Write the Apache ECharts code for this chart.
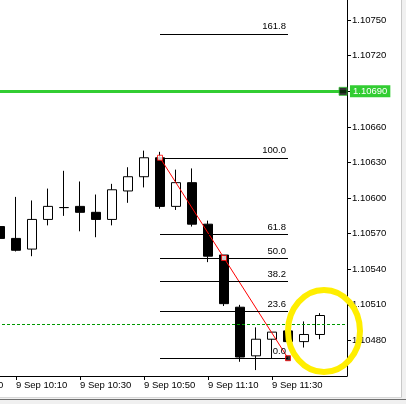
<!DOCTYPE html>
<html>
<head>
<meta charset="utf-8">
<script src="https://cdn.jsdelivr.net/npm/echarts@6/dist/echarts.min.js"></script>
<style>
html, body { margin: 0; padding: 0; background: #fff; }
#chart { width: 406px; height: 404px; }
</style>
</head>
<body>
<div id="chart"></div>
<script>
// EURUSD M5, 9 Sep 10:05 .. 11:45
var times = ['10:05', '10:10', '10:15', '10:20', '10:25', '10:30', '10:35', '10:40', '10:45', '10:50', '10:55',
  '11:00', '11:05', '11:10', '11:15', '11:20', '11:25', '11:30', '11:35', '11:40', '11:45'];
var opens = [1.10576, 1.10566, 1.10557, 1.10582, 1.10592, 1.10593, 1.10588, 1.10582, 1.10606, 1.10618, 1.10634,
  1.10593, 1.10613, 1.10578, 1.10552, 1.10508, 1.10467, 1.10481, 1.10488, 1.10479, 1.10485];
var closes = [1.10566, 1.10556, 1.10582, 1.10593, 1.10592, 1.10588, 1.10582, 1.10607, 1.10618, 1.10634, 1.10593,
  1.10613, 1.10578, 1.10551, 1.10511, 1.10466, 1.10481, 1.10487, 1.10479, 1.10485, 1.10501];
var lows = [1.10555, 1.10555, 1.10551, 1.10577, 1.10585, 1.10572, 1.10567, 1.10577, 1.10596, 1.10609, 1.10591,
  1.10590, 1.10576, 1.10546, 1.10509, 1.10462, 1.10455, 1.10465, 1.10479, 1.10474, 1.10481];
var highs = [1.10605, 1.10601, 1.10598, 1.10608, 1.10623, 1.10614, 1.10603, 1.10612, 1.10626, 1.10640, 1.10639,
  1.10624, 1.10625, 1.10581, 1.10552, 1.10510, 1.10491, 1.10487, 1.10488, 1.10496, 1.10503];

// time axis labels (index of candle, 10:05 = 0)
var xTickIdx = [-3, 1, 5, 9, 13, 17];
var xTickLabels = ['9 Sep 09:50', '9 Sep 10:10', '9 Sep 10:30', '9 Sep 10:50', '9 Sep 11:10', '9 Sep 11:30'];
var yTicks = [1.10480, 1.10510, 1.10540, 1.10570, 1.10600, 1.10630, 1.10660, 1.10690, 1.10720, 1.10750];

// fibo retracement 10:55 -> 11:35
var fibFrom = 10, fibTo = 18;
var fibHigh = 1.10634, fibLow = 1.10465;
var fibLevels = [0, 23.6, 38.2, 50, 61.8, 100, 161.8];

var hLinePrice = 1.10690;
var hLineMarkIdx = 21.44;
var askPrice = 1.10494;
var circleAt = [20.25, 1.10488];
var circleRadius = [2.25, 0.000346];

var xMin = -3, xMax = 347 / 16;
var font = 'Liberation Sans';
var chart = echarts.init(document.getElementById('chart'));

var candles = times.map(function (t, i) {
  return [i, opens[i], closes[i], lows[i], highs[i]];
});

var fibLines = fibLevels.map(function (lv) {
  var p = fibLow + (fibHigh - fibLow) * lv / 100;
  return [{
    coord: [fibFrom, p],
    lineStyle: { color: '#000', width: 1, type: 'solid' },
    label: {
      show: true, position: 'insideEndTop', distance: [2, 2], formatter: lv.toFixed(1),
      color: '#000', fontSize: 9.5, fontFamily: font
    }
  }, { coord: [fibTo, p] }];
});

var option = {
  animation: false,
  backgroundColor: '#fff',
  textStyle: { fontFamily: font },
  grid: { left: -48, right: 59, top: 0, bottom: 28, containLabel: false, outerBoundsMode: 'none' },
  xAxis: {
    type: 'value', min: xMin, max: xMax,
    axisLine: { show: true, onZero: false, lineStyle: { color: '#000', width: 1 } },
    axisTick: { show: true, length: 4, customValues: xTickIdx, lineStyle: { color: '#000' } },
    axisLabel: {
      show: true, customValues: xTickIdx, align: 'left', margin: 4, color: '#000', fontSize: 9.5, fontFamily: font,
      formatter: function (v) { var k = xTickIdx.indexOf(v); return k < 0 ? '' : xTickLabels[k]; }
    },
    splitLine: { show: false }
  },
  yAxis: {
    type: 'value', position: 'right', min: 1.1045, max: 1.10767, scale: true,
    axisLine: { show: true, onZero: false, lineStyle: { color: '#000', width: 1 } },
    axisTick: { show: true, length: 4, customValues: yTicks, lineStyle: { color: '#000' } },
    axisLabel: {
      show: true, customValues: yTicks, margin: 5, color: '#000', fontSize: 9.5, fontFamily: font,
      formatter: function (v) { return v.toFixed(5); }
    },
    splitLine: { show: false }
  },
  series: [
    {
      type: 'candlestick',
      data: candles,
      barWidth: 10,
      itemStyle: { color: '#fff', color0: '#000', borderColor: '#000', borderColor0: '#000', borderWidth: 1 }
    },
    {
      type: 'line', data: [], clip: false, silent: true,
      markLine: {
        silent: true, symbol: ['none', 'none'], animation: false,
        data: [
          [{
            coord: [xMin, askPrice],
            lineStyle: { color: '#009900', width: 1, type: [3, 2] },
            label: { show: false }
          }, { coord: [xMax, askPrice] }],
          [{
            coord: [xMin, hLinePrice],
            lineStyle: { color: '#32cd32', width: 3, type: 'solid' },
            label: {
              show: true, position: 'end', distance: 3, formatter: hLinePrice.toFixed(5),
              backgroundColor: '#32cd32', color: '#fff', padding: [1, 3, 1, 3], fontSize: 9.5, fontFamily: font
            }
          }, { coord: [xMax, hLinePrice] }],
          [{
            coord: [fibFrom, fibHigh],
            lineStyle: { color: '#ff0000', width: 1, type: 'solid' },
            label: { show: false }
          }, { coord: [fibTo, fibLow] }]
        ].concat(fibLines)
      }
    },
    {
      type: 'scatter', silent: true, z: 5,
      symbol: 'rect', symbolSize: 5,
      data: [
        { value: [fibFrom, fibHigh], itemStyle: { color: '#fff', borderColor: '#ff0000', borderWidth: 1 } },
        { value: [(fibFrom + fibTo) / 2, (fibHigh + fibLow) / 2], itemStyle: { color: '#fff', borderColor: '#ff0000', borderWidth: 1 } },
        { value: [fibTo, fibLow], itemStyle: { color: '#000', borderColor: '#ff0000', borderWidth: 1 } },
        { value: [hLineMarkIdx, hLinePrice], symbolSize: 8, itemStyle: { color: '#000', borderColor: '#32cd32', borderWidth: 1 } }
      ]
    },
    {
      type: 'custom', z: 20, clip: false, silent: true,
      data: [circleAt],
      renderItem: function (params, api) {
        var c = api.coord([api.value(0), api.value(1)]);
        var s = api.size(circleRadius);
        return {
          type: 'ellipse',
          shape: { cx: c[0], cy: c[1], rx: s[0], ry: s[1] },
          style: { fill: 'none', stroke: '#ffee00', lineWidth: 6 }
        };
      }
    }
  ],
  graphic: [
    { type: 'rect', z: 100, shape: { x: 401, y: 0, width: 5, height: 404 }, style: { fill: '#f0f0f0' } },
    { type: 'line', z: 101, shape: { x1: 401.5, y1: 0, x2: 401.5, y2: 398 }, style: { stroke: '#c8c8c8', lineWidth: 1 } },
    { type: 'rect', z: 100, shape: { x: 0, y: 398, width: 406, height: 6 }, style: { fill: '#f0f0f0' } },
    { type: 'line', z: 101, shape: { x1: 0, y1: 397.5, x2: 402, y2: 397.5 }, style: { stroke: '#d8d8d8', lineWidth: 1 } },
    { type: 'line', z: 101, shape: { x1: 0, y1: 399.5, x2: 406, y2: 399.5 }, style: { stroke: '#707070', lineWidth: 1 } }
  ]
};
chart.setOption(option);
</script>
</body>
</html>
